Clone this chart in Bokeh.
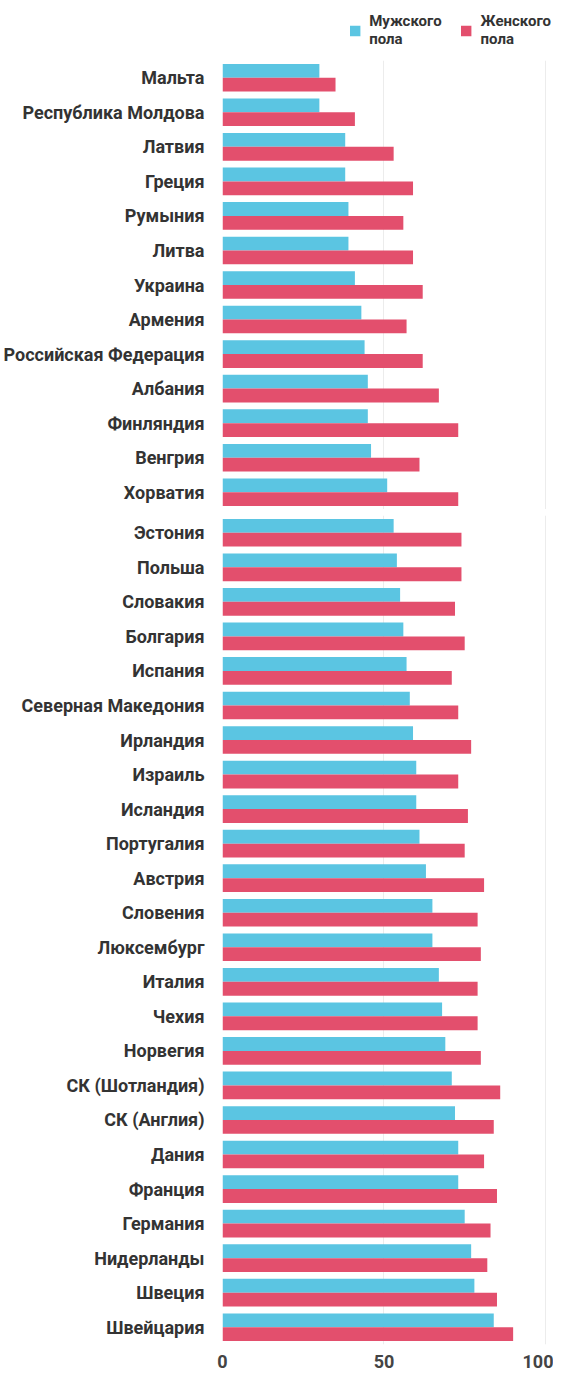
from bokeh.plotting import figure
from bokeh.layouts import column
from bokeh.models import FactorRange, Range1d, FixedTicker, Legend, LegendItem, ColumnDataSource
from bokeh.embed import file_html
from bokeh.resources import INLINE
from bokeh.transform import dodge

countries = ["Мальта", "Республика Молдова", "Латвия", "Греция", "Румыния", "Литва",
             "Украина", "Армения", "Российская Федерация", "Албания", "Финляндия",
             "Венгрия", "Хорватия", "Эстония", "Польша", "Словакия", "Болгария",
             "Испания", "Северная Македония", "Ирландия", "Израиль", "Исландия",
             "Португалия", "Австрия", "Словения", "Люксембург", "Италия", "Чехия",
             "Норвегия", "СК (Шотландия)", "СК (Англия)", "Дания", "Франция",
             "Германия", "Нидерланды", "Швеция", "Швейцария"]
male = [30, 30, 38, 38, 39, 39, 41, 43, 44, 45, 45, 46, 51,
        53, 54, 55, 56, 57, 58, 59, 60, 60, 61, 63, 65, 65, 67, 68, 69,
        71, 72, 73, 73, 75, 77, 78, 84]
female = [35, 41, 53, 59, 56, 59, 62, 57, 62, 67, 73, 61, 73,
          74, 74, 72, 75, 71, 73, 77, 73, 76, 75, 81, 79, 80, 79, 79, 80,
          86, 84, 81, 85, 83, 82, 85, 90]
first_panel_count = 13
series_labels = ["Мужского\nпола", "Женского\nпола"]
x_ticks = [0, 50, 100]

CYAN = "#5bc5e2"
PINK = "#e34f6d"
FONT = "Roboto"
TXT = "#333333"
W = 553


def make_panel(cs, ms, fs, height, top, bottom, show_x):
    src = ColumnDataSource(dict(y=cs, male=ms, female=fs))
    p = figure(width=W, height=height, y_range=FactorRange(factors=cs[::-1]),
               x_range=Range1d(0, 102.5), title=None,
               output_backend="svg", toolbar_location=None,
               min_border_left=216, min_border_right=0, min_border_top=top,
               min_border_bottom=bottom)
    p.outline_line_color = None
    p.hbar(y=dodge('y', 0.2, range=p.y_range), left=0, right='male', height=0.4,
           source=src, fill_color=CYAN, line_color=None)
    p.hbar(y=dodge('y', -0.2, range=p.y_range), left=0, right='female', height=0.4,
           source=src, fill_color=PINK, line_color=None)
    p.ygrid.grid_line_color = None
    p.xgrid.grid_line_color = "#ececec"
    p.xaxis.ticker = FixedTicker(ticks=x_ticks)
    p.xaxis.axis_line_color = None
    p.xaxis.major_tick_line_color = None
    p.xaxis.minor_tick_line_color = None
    p.xaxis.major_label_standoff = 4
    p.xaxis.major_label_text_font = FONT
    p.xaxis.major_label_text_font_style = "bold"
    p.xaxis.major_label_text_font_size = "18px"
    p.xaxis.major_label_text_color = "#444444"
    p.xaxis.visible = show_x
    p.yaxis.axis_line_color = None
    p.yaxis.major_tick_line_color = None
    p.yaxis.minor_tick_line_color = None
    p.yaxis.major_label_standoff = 12
    p.yaxis.major_label_text_font = FONT
    p.yaxis.major_label_text_font_style = "bold"
    p.yaxis.major_label_text_font_size = "18px"
    p.yaxis.major_label_text_color = TXT
    return p


n = first_panel_count
p1 = make_panel(countries[:n], male[:n], female[:n], 449, 0, 0, False)
p2 = make_panel(countries[n:], male[n:], female[n:], 862, 6, 27, True)

# legend strip on top: zero-size swatch renderers only carry the legend colours
pl = figure(width=W, height=60, title=None, output_backend="svg", toolbar_location=None,
            x_range=Range1d(0, 1), y_range=Range1d(0, 1),
            min_border_left=0, min_border_right=0, min_border_top=10, min_border_bottom=0)
pl.outline_line_color = None
pl.axis.visible = False
pl.grid.visible = False
swatch = ColumnDataSource(dict(y=[0], left=[0], right=[0]))
sw_m = pl.hbar(y='y', left='left', right='right', height=0, source=swatch,
               fill_color=CYAN, line_color=None)
sw_f = pl.hbar(y='y', left='left', right='right', height=0, source=swatch,
               fill_color=PINK, line_color=None)

legend = Legend(items=[LegendItem(label=series_labels[0], renderers=[sw_m]),
                       LegendItem(label=series_labels[1], renderers=[sw_f])],
                orientation="horizontal", location="top_right")
legend.label_text_font = FONT
legend.label_text_font_style = "bold"
legend.label_text_font_size = "15px"
legend.label_text_color = TXT
legend.label_text_line_height = 1.5
legend.glyph_width = 13
legend.glyph_height = 13
legend.label_standoff = 8
legend.spacing = 18
legend.padding = 0
legend.margin = 2
legend.border_line_color = None
legend.background_fill_alpha = 0
pl.add_layout(legend, "center")

layout = column(pl, p1, p2, spacing=0)
open("out.html", "w").write(file_html(layout, INLINE))
